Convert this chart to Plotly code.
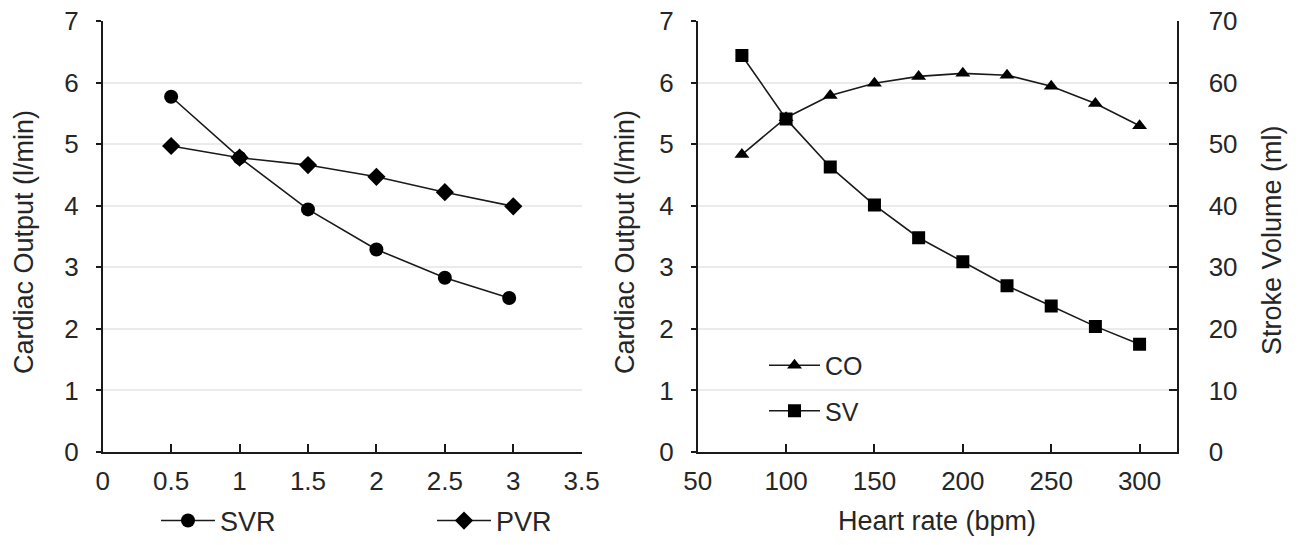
import plotly.graph_objects as go

# Left panel data
svr_x = [0.5, 1, 1.5, 2, 2.5, 2.97]
svr_co = [5.77, 4.78, 3.94, 3.29, 2.83, 2.50]
pvr_x = [0.5, 1, 1.5, 2, 2.5, 3]
pvr_co = [4.97, 4.78, 4.66, 4.47, 4.22, 3.99]

# Right panel data
heart_rate = [75, 100, 125, 150, 175, 200, 225, 250, 275, 300]
cardiac_output = [4.83, 5.43, 5.79, 5.99, 6.10, 6.15, 6.12, 5.94, 5.66, 5.30]
stroke_volume = [64.4, 54.1, 46.3, 40.1, 34.8, 30.9, 27.0, 23.7, 20.4, 17.5]

W, H = 1298, 545
FONT = "Liberation Sans, Arial, sans-serif"
TXT = "#262626"
LINE = "#1a1a1a"
TICK_SIZE = 26
TITLE_SIZE = 27

def px(x):
    return x / W

def py(y):
    return (H - y) / H

fig = go.Figure()

fig.add_trace(go.Scatter(x=svr_x, y=svr_co, name="SVR", mode="lines+markers",
                         line=dict(color=LINE, width=1.6),
                         marker=dict(symbol="circle", size=14, color="black"),
                         xaxis="x", yaxis="y", legend="legend"))
fig.add_trace(go.Scatter(x=pvr_x, y=pvr_co, name="PVR", mode="lines+markers",
                         line=dict(color=LINE, width=1.6),
                         marker=dict(symbol="diamond", size=14, color="black"),
                         xaxis="x", yaxis="y", legend="legend"))
fig.add_trace(go.Scatter(x=heart_rate, y=cardiac_output, name="CO", mode="lines+markers",
                         line=dict(color=LINE, width=1.6),
                         marker=dict(symbol="triangle-up", size=13, color="black"),
                         xaxis="x2", yaxis="y2", legend="legend2", legendgroup="co"))
fig.add_trace(go.Scatter(x=heart_rate, y=stroke_volume, name="SV", mode="lines+markers",
                         line=dict(color=LINE, width=1.6),
                         marker=dict(symbol="square", size=13, color="black"),
                         xaxis="x2", yaxis="y3", legend="legend2", legendgroup="sv"))

ydom = [py(452), py(21)]
axis_common = dict(showline=True, linecolor=LINE, linewidth=1.5, zeroline=False, automargin=False,
                   tickfont=dict(family=FONT, size=TICK_SIZE, color=TXT), tickcolor=LINE, tickwidth=1.5)

def title(text, x, y, angle=0):
    return dict(text=text, x=px(x), y=py(y), xref="paper", yref="paper",
                xanchor="center", yanchor="middle", textangle=angle, showarrow=False,
                font=dict(family=FONT, size=TITLE_SIZE, color=TXT))

fig.update_layout(
    width=W, height=H,
    margin=dict(l=0, r=0, t=0, b=0, autoexpand=False),
    paper_bgcolor="white", plot_bgcolor="white",
    showlegend=True,
    font=dict(family=FONT, size=TICK_SIZE, color=TXT),
    xaxis=dict(domain=[px(102.7), px(581.7)], range=[0, 3.5], dtick=0.5, tick0=0,
               ticks="inside", ticklen=8, showgrid=False, anchor="y",
               ticklabelstandoff=5, **axis_common),
    yaxis=dict(domain=ydom, range=[0, 7], dtick=1, ticks="outside", ticklen=5,
               showgrid=True, gridcolor="#ebebeb", gridwidth=1.5, anchor="x",
               ticklabelstandoff=12, **axis_common),
    xaxis2=dict(domain=[px(697.7), px(1176.7)], range=[50, 321], dtick=50, tick0=50,
                ticks="inside", ticklen=8, showgrid=False, anchor="y2",
                ticklabelstandoff=5, **axis_common),
    yaxis2=dict(domain=ydom, range=[0, 7], dtick=1, ticks="outside", ticklen=5,
                showgrid=True, gridcolor="#ebebeb", gridwidth=1.5, anchor="x2",
                ticklabelstandoff=12, **axis_common),
    yaxis3=dict(range=[0, 70], dtick=10, ticks="inside", ticklen=8, side="right",
                overlaying="y2", anchor="x2", showgrid=False,
                ticklabelstandoff=25, **axis_common),
    legend=dict(orientation="h", x=px(156), y=py(521), xanchor="left", yanchor="middle",
                bgcolor="rgba(0,0,0,0)", entrywidth=207, entrywidthmode="pixels",
                itemwidth=54, font=dict(family=FONT, size=TITLE_SIZE, color=TXT)),
    legend2=dict(orientation="v", x=px(764), y=py(388), xanchor="left", yanchor="middle",
                 bgcolor="rgba(0,0,0,0)", tracegroupgap=10, itemwidth=51,
                 font=dict(family=FONT, size=25, color=TXT)),
    annotations=[
        title("Cardiac Output (l/min)", 24, 242, -90),
        title("Cardiac Output (l/min)", 625, 242, -90),
        title("Stroke Volume (ml)", 1272, 240, -90),
        title("Heart rate (bpm)", 937, 521),
    ],
)

fig.write_html("out.html")
